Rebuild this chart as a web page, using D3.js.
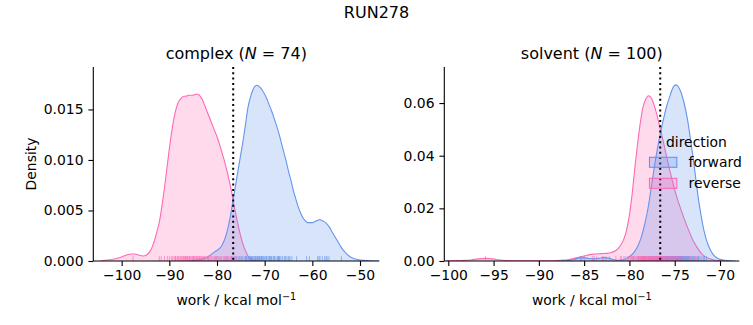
<!DOCTYPE html>
<html>
<head>
<meta charset="utf-8">
<script src="https://cdn.jsdelivr.net/npm/d3@7"></script>
<style>
  html, body { margin: 0; padding: 0; background: #fff; }
  svg { display: block; font-family: "DejaVu Sans", sans-serif; }
</style>
</head>
<body>
<svg id="chart" width="753" height="325"></svg>
<script>
// ---------------- DATA ----------------
const figTitle = "RUN278";
const directions = ["forward", "reverse"];
const colors = { forward: "#6495ED", reverse: "#FF69B4" };
const vlineWork = -76.6;

// complex (N = 74): density curves
const complexForwardX = [-86, -84, -82, -80.5, -79, -78, -77.2, -76.7, -76, -75.5, -75, -74.5, -74, -73.5, -73, -72.5, -72, -71.6, -71, -70.5, -70, -69.5, -69, -68.5, -68, -67.5, -67, -66.5, -66, -65.5, -65, -64.5, -64, -63.5, -63, -62.5, -62, -61.5, -61, -60.5, -60, -59.5, -59, -58.4, -58, -57.5, -57, -56.5, -56, -55.5, -55, -54.5, -54, -53, -52, -51, -50, -48, -46];
const complexForwardY = [0, 0.0001, 0.0004, 0.0009, 0.0015, 0.0027, 0.0044, 0.0058, 0.0078, 0.0092, 0.0106, 0.0120, 0.0136, 0.0152, 0.0162, 0.0169, 0.0173, 0.0174, 0.0172, 0.0169, 0.0165, 0.0160, 0.0154, 0.0148, 0.0141, 0.0134, 0.0126, 0.0117, 0.0108, 0.0099, 0.0089, 0.0080, 0.0070, 0.0062, 0.0054, 0.0048, 0.0043, 0.0040, 0.0038, 0.0038, 0.0038, 0.0039, 0.0040, 0.0041, 0.0040, 0.0039, 0.0037, 0.0034, 0.0030, 0.0026, 0.0022, 0.0018, 0.0014, 0.0008, 0.0004, 0.0002, 0.0001, 0.00003, 0];
const complexReverseX = [-104.5, -103, -101.5, -100, -99, -98, -97.3, -96.5, -95.5, -94.8, -94, -93.5, -93, -92.5, -92, -91.5, -91, -90.5, -90, -89.5, -89, -88.5, -88, -87.5, -87, -86.5, -86, -85.5, -85, -84.5, -84, -83.5, -83, -82.5, -82, -81.5, -81, -80.5, -80, -79.5, -79, -78.5, -78, -77.5, -77, -76.5, -76, -75.5, -75, -74.5, -74, -73.5, -73, -72, -71];
const complexReverseY = [0, 0.0001, 0.0002, 0.0004, 0.0006, 0.0007, 0.0007, 0.0006, 0.0005, 0.0006, 0.0010, 0.0015, 0.0022, 0.0031, 0.0041, 0.0056, 0.0073, 0.0092, 0.0111, 0.0128, 0.0142, 0.0152, 0.0158, 0.0161, 0.0163, 0.0163, 0.0164, 0.0164, 0.0164, 0.0165, 0.0165, 0.0163, 0.0159, 0.0153, 0.0147, 0.0141, 0.0135, 0.0129, 0.0123, 0.0116, 0.0108, 0.0100, 0.0091, 0.0081, 0.0070, 0.0057, 0.0045, 0.0034, 0.0024, 0.0016, 0.0010, 0.0005, 0.0002, 0.00005, 0];

// solvent (N = 100)
const solventForwardX = [-88, -87, -86.3, -85.8, -85.3, -84.7, -84, -83.4, -82.8, -82.2, -81.7, -81.2, -80.7, -80.3, -79.9, -79.5, -79.1, -78.7, -78.3, -77.9, -77.5, -77.1, -76.7, -76.3, -75.9, -75.5, -75.2, -74.9, -74.6, -74.3, -74.0, -73.6, -73.3, -73.0, -72.7, -72.4, -72.1, -71.8, -71.5, -71.1, -70.7, -70.2, -69.6, -69, -68.3];
const solventForwardY = [0, 0.0001, 0.0004, 0.0009, 0.0013, 0.0011, 0.0008, 0.0010, 0.0013, 0.0010, 0.0005, 0.0003, 0.0005, 0.0010, 0.0019, 0.0033, 0.0055, 0.0090, 0.0142, 0.0210, 0.0300, 0.0390, 0.0465, 0.0530, 0.0587, 0.0630, 0.0658, 0.0669, 0.0662, 0.0640, 0.0605, 0.0540, 0.0473, 0.0400, 0.0320, 0.0240, 0.0175, 0.0120, 0.0080, 0.0045, 0.0022, 0.0009, 0.0004, 0.0001, 0];
const solventReverseX = [-100.3, -99.5, -98.5, -97.5, -96.7, -95.9, -95.1, -94.3, -93.5, -92.5, -91, -89.5, -88.5, -87.5, -86.8, -86.2, -85.5, -84.8, -84, -83.2, -82.5, -82, -81.5, -81, -80.6, -80.3, -80.0, -79.7, -79.4, -79.1, -78.8, -78.5, -78.2, -77.9, -77.6, -77.3, -77.0, -76.65, -76.3, -75.9, -75.5, -75.0, -74.5, -74.0, -73.5, -73.0, -72.5, -71.9, -71.3, -70.7, -70, -69];
const solventReverseY = [0, 0.0001, 0.0002, 0.0004, 0.0008, 0.0010, 0.0008, 0.0004, 0.0002, 0.0001, 0.00003, 0.00005, 0.0001, 0.0003, 0.0005, 0.0009, 0.0015, 0.0021, 0.0026, 0.0028, 0.0029, 0.0032, 0.0040, 0.0058, 0.0085, 0.0120, 0.0175, 0.0255, 0.0355, 0.0445, 0.0525, 0.0585, 0.0615, 0.0628, 0.0620, 0.0595, 0.0560, 0.0510, 0.0460, 0.0397, 0.0338, 0.0270, 0.0214, 0.0165, 0.0120, 0.0080, 0.0050, 0.0023, 0.0010, 0.0004, 0.0001, 0];

// rug samples (work values)
const complexForwardRug = [-79.8, -77.9, -77.0, -76.3, -75.9, -75.4, -75.0, -74.7, -74.3, -74.0, -73.9, -73.8, -73.5, -73.3, -73.1, -73.0, -72.8, -72.7, -72.6, -72.4, -72.2, -72.0, -71.9, -71.8, -71.6, -71.5, -71.4, -71.2, -71.1, -71.0, -70.8, -70.7, -70.6, -70.4, -70.3, -70.1, -69.9, -69.7, -69.6, -69.3, -69.1, -69.0, -68.8, -68.6, -68.5, -68.2, -68.0, -67.9, -67.6, -67.3, -67.1, -67.0, -66.9, -66.6, -66.3, -65.9, -65.7, -65.5, -65.1, -64.9, -64.7, -64.3, -63.3, -61.2, -60.6, -58.9, -58.6, -58.4, -57.9, -57.4, -57.1, -56.9, -56.5, -53.9];
const complexReverseRug = [-97.6, -92.1, -91.7, -91.0, -90.4, -90.0, -89.6, -89.3, -89.0, -88.8, -88.7, -88.4, -88.2, -88.1, -87.8, -87.6, -87.5, -87.2, -87.0, -86.9, -86.7, -86.5, -86.3, -86.2, -86.0, -85.8, -85.7, -85.5, -85.3, -85.1, -85.0, -84.8, -84.6, -84.4, -84.3, -84.1, -83.9, -83.7, -83.6, -83.4, -83.1, -82.9, -82.7, -82.6, -82.3, -82.0, -81.8, -81.7, -81.4, -81.1, -80.8, -80.5, -80.3, -80.1, -79.8, -79.4, -79.2, -79.0, -78.6, -78.4, -78.2, -77.9, -77.7, -77.5, -77.2, -76.9, -76.6, -76.2, -75.8, -75.3, -74.8, -84.9, -86.6, -83.2];
const solventForwardRug = [-85.4, -85.0, -83.9, -82.9, -82.6, -80.6, -79.6, -79.0, -78.6, -78.4, -78.2, -77.9, -77.8, -77.6, -77.5, -77.4, -77.2, -77.1, -77.0, -76.9, -76.8, -76.7, -76.6, -76.5, -76.45, -76.4, -76.3, -76.25, -76.2, -76.1, -76.05, -76.0, -75.95, -75.9, -75.85, -75.8, -75.75, -75.7, -75.65, -75.6, -75.55, -75.5, -75.45, -75.4, -75.35, -75.3, -75.25, -75.2, -75.15, -75.1, -75.05, -75.0, -74.95, -74.9, -74.85, -74.8, -74.75, -74.7, -74.65, -74.6, -74.55, -74.5, -74.45, -74.4, -74.35, -74.3, -74.25, -74.2, -74.15, -74.1, -74.05, -74.0, -73.95, -73.9, -73.8, -73.7, -73.65, -73.6, -73.5, -73.45, -73.4, -73.3, -73.2, -73.1, -73.0, -72.9, -72.85, -72.7, -72.5, -72.4, -72.35, -72.2, -72.0, -71.8, -71.7, -71.5, -76.35, -75.05, -74.6, -73.75];
const solventReverseRug = [-95.9, -85.3, -84.1, -83.6, -83.0, -82.2, -81.5, -81.0, -80.9, -80.4, -80.2, -80.1, -79.9, -79.8, -79.7, -79.6, -79.5, -79.4, -79.3, -79.2, -79.1, -79.0, -78.95, -78.9, -78.8, -78.75, -78.7, -78.65, -78.6, -78.55, -78.5, -78.45, -78.4, -78.35, -78.3, -78.25, -78.2, -78.15, -78.1, -78.05, -78.0, -77.95, -77.9, -77.85, -77.8, -77.75, -77.7, -77.65, -77.6, -77.55, -77.5, -77.45, -77.4, -77.35, -77.3, -77.25, -77.2, -77.15, -77.1, -77.05, -77.0, -76.95, -76.9, -76.85, -76.8, -76.75, -76.7, -76.6, -76.55, -76.5, -76.4, -76.35, -76.3, -76.2, -76.15, -76.1, -76.0, -75.9, -75.8, -75.7, -75.6, -75.5, -75.4, -75.3, -75.2, -75.1, -75.0, -74.9, -74.8, -74.6, -74.5, -74.3, -74.1, -74.0, -73.8, -73.6, -73.4, -73.2, -72.9, -72.6];

// tick labels
const complexXTicks = [-100, -90, -80, -70, -60, -50];
const complexYTicks = [0, 0.005, 0.010, 0.015];
const solventXTicks = [-100, -95, -90, -85, -80, -75, -70];
const solventYTicks = [0, 0.02, 0.04, 0.06];

const panels = [
  { key: "complex", label: "complex", n: 74, xDomain: [-105.95, -45.95], yDomain: [0, 0.0192],
    xTicks: complexXTicks, yTicks: complexYTicks, yFmt: ".3f", ylabel: true,
    curves: { forward: [complexForwardX, complexForwardY], reverse: [complexReverseX, complexReverseY] },
    rugs: { forward: complexForwardRug, reverse: complexReverseRug },
    box: { x0: 93.3, x1: 379.3, y0: 67, y1: 261 } },
  { key: "solvent", label: "solvent", n: 100, xDomain: [-100.44, -67.87], yDomain: [0, 0.0737],
    xTicks: solventXTicks, yTicks: solventYTicks, yFmt: ".2f", ylabel: false,
    curves: { forward: [solventForwardX, solventForwardY], reverse: [solventReverseX, solventReverseY] },
    rugs: { forward: solventForwardRug, reverse: solventReverseRug },
    box: { x0: 444.3, x1: 739.3, y0: 67, y1: 261 } }
];

// ---------------- DRAW ----------------
const svg = d3.select("#chart");
const FS = 13.9;
const minus = s => s.replace(/-/g, "\u2212");

svg.append("text").attr("x", 376.5).attr("y", 18.3).attr("text-anchor", "middle")
  .attr("font-size", 16).attr("fill", "#000").text(figTitle);

panels.forEach((p, pi) => {
  const b = p.box;
  const x = d3.scaleLinear().domain(p.xDomain).range([b.x0, b.x1]);
  const y = d3.scaleLinear().domain(p.yDomain).range([b.y1, b.y0]);
  const g = svg.append("g");
  const clipId = "clip" + pi;
  svg.append("defs").append("clipPath").attr("id", clipId)
    .append("rect").attr("x", b.x0).attr("y", b.y0 - 2).attr("width", b.x1 - b.x0).attr("height", b.y1 - b.y0 + 2);
  const plot = g.append("g").attr("clip-path", `url(#${clipId})`);

  const area = d3.area().x(d => x(d[0])).y0(y(0)).y1(d => y(d[1])).curve(d3.curveMonotoneX);
  const line = d3.line().x(d => x(d[0])).y(d => y(d[1])).curve(d3.curveMonotoneX);

  // reverse drawn first, forward on top (seaborn draws hue levels in reverse)
  ["reverse", "forward"].forEach(dir => {
    const [xs, ys] = p.curves[dir];
    const pts = xs.map((v, i) => [v, ys[i]]);
    plot.append("path").datum(pts).attr("d", area)
      .attr("fill", colors[dir]).attr("fill-opacity", 0.25).attr("stroke", "none");
    plot.append("path").datum(pts).attr("d", line)
      .attr("fill", "none").attr("stroke", colors[dir]).attr("stroke-width", 1.1);
  });

  // rugs
  const rugH = 0.025 * (b.y1 - b.y0);
  ["forward", "reverse"].forEach(dir => {
    plot.append("g").selectAll("line").data(p.rugs[dir]).join("line")
      .attr("x1", d => x(d)).attr("x2", d => x(d))
      .attr("y1", y(0)).attr("y2", y(0) - rugH)
      .attr("stroke", colors[dir]).attr("stroke-width", 1).attr("stroke-opacity", 0.65);
  });

  // dotted vertical line
  g.append("line").attr("x1", x(vlineWork)).attr("x2", x(vlineWork))
    .attr("y1", b.y0).attr("y2", b.y1)
    .attr("stroke", "#000").attr("stroke-width", 2).attr("stroke-dasharray", "2,3.3");

  // axes
  const xAxis = d3.axisBottom(x).tickValues(p.xTicks).tickSize(4.9).tickPadding(4.2)
    .tickFormat(d => minus(d3.format("d")(d)));
  const gx = g.append("g").attr("transform", `translate(0,${b.y1})`).call(xAxis);
  gx.select(".domain").remove();
  gx.append("line").attr("x1", b.x0).attr("x2", b.x1).attr("stroke", "#000").attr("stroke-width", 1.1);
  gx.selectAll(".tick line").attr("stroke", "#000").attr("stroke-width", 1.1);
  gx.selectAll(".tick text").attr("font-size", FS).attr("fill", "#000").attr("font-family", "DejaVu Sans");

  const yAxis = d3.axisLeft(y).tickValues(p.yTicks).tickSize(4.9).tickPadding(4.9)
    .tickFormat(d => d3.format(p.yFmt)(d));
  const gy = g.append("g").attr("transform", `translate(${b.x0},0)`).call(yAxis);
  gy.select(".domain").remove();
  gy.append("line").attr("y1", b.y0).attr("y2", b.y1).attr("stroke", "#000").attr("stroke-width", 1.1);
  gy.selectAll(".tick line").attr("stroke", "#000").attr("stroke-width", 1.1);
  gy.selectAll(".tick text").attr("font-size", FS).attr("fill", "#000").attr("font-family", "DejaVu Sans");

  // title
  const cx = (b.x0 + b.x1) / 2;
  const t = g.append("text").attr("x", cx).attr("y", 58.5).attr("text-anchor", "middle")
    .attr("font-size", 16).attr("fill", "#000");
  t.append("tspan").text(p.label + " (");
  t.append("tspan").attr("font-style", "italic").text("N");
  t.append("tspan").text(" = " + p.n + ")");

  // x label
  const xl = g.append("text").attr("x", cx).attr("y", 305).attr("text-anchor", "middle")
    .attr("font-size", FS).attr("fill", "#000");
  xl.append("tspan").text("work / kcal mol");
  xl.append("tspan").attr("dy", -5.5).attr("font-size", 9.7).text("\u22121");

  if (p.ylabel) {
    g.append("text").attr("transform", `translate(35.5,${(b.y0 + b.y1) / 2}) rotate(-90)`)
      .attr("text-anchor", "middle").attr("font-size", FS).attr("fill", "#000").text("Density");
  }
});

// legend
const lg = svg.append("g");
lg.append("text").attr("x", 666).attr("y", 146.5).attr("font-size", FS).attr("fill", "#000").text("direction");
directions.forEach((dir, i) => {
  const yy = 157.3 + i * 21;
  lg.append("rect").attr("x", 649.5).attr("y", yy).attr("width", 27.3).attr("height", 10)
    .attr("fill", colors[dir]).attr("fill-opacity", 0.25).attr("stroke", colors[dir]).attr("stroke-width", 1.1);
  lg.append("text").attr("x", 688.5).attr("y", yy + 9.5).attr("font-size", FS).attr("fill", "#000").text(dir);
});
</script>
</body>
</html>
